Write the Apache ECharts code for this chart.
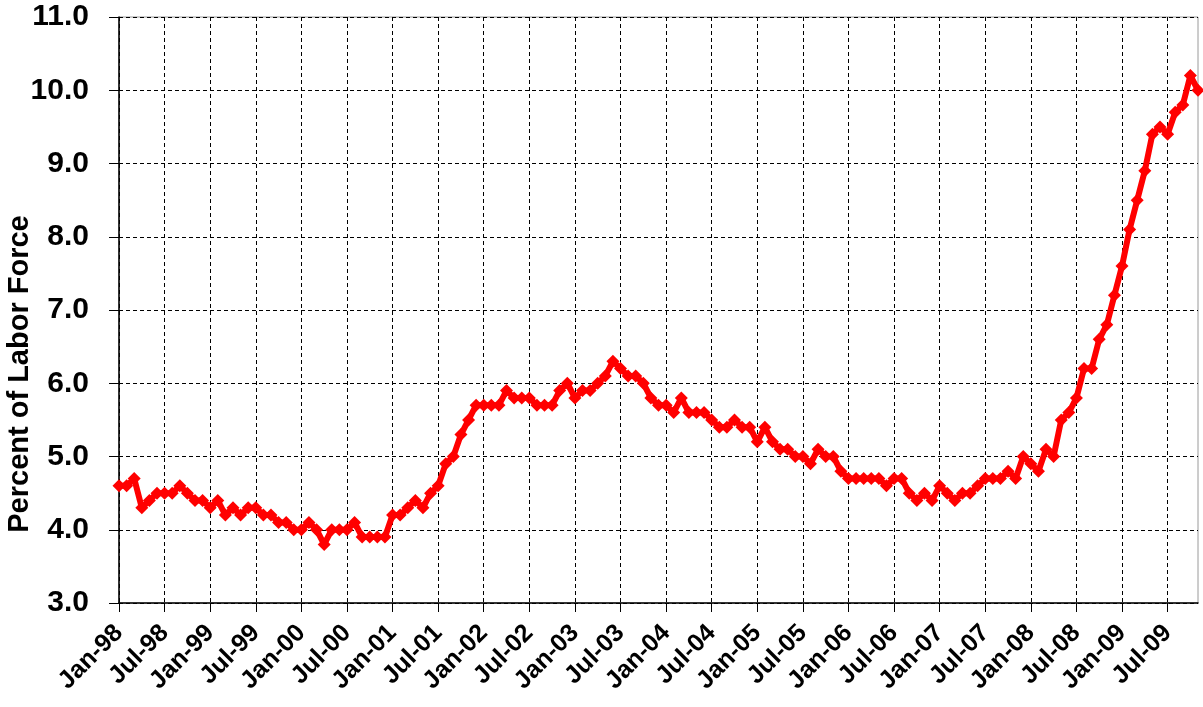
<!DOCTYPE html>
<html>
<head>
<meta charset="utf-8">
<script src="https://cdn.jsdelivr.net/npm/echarts@6/dist/echarts.min.js"></script>
<style>
html,body{margin:0;padding:0;background:#fff;}
#chart{width:1203px;height:707px;}
</style>
</head>
<body>
<div id="chart"></div>
<script>
// Tick label pieces
var MONTHS = ['Jan','Feb','Mar','Apr','May','Jun','Jul','Aug','Sep','Oct','Nov','Dec'];
var YEARS = ['98','99','00','01','02','03','04','05','06','07','08','09'];

// Unemployment rate, percent of labor force, by year; 2009 runs through Nov
var rate1998 = [4.6,4.6,4.7,4.3,4.4,4.5,4.5,4.5,4.6,4.5,4.4,4.4];
var rate1999 = [4.3,4.4,4.2,4.3,4.2,4.3,4.3,4.2,4.2,4.1,4.1,4.0];
var rate2000 = [4.0,4.1,4.0,3.8,4.0,4.0,4.0,4.1,3.9,3.9,3.9,3.9];
var rate2001 = [4.2,4.2,4.3,4.4,4.3,4.5,4.6,4.9,5.0,5.3,5.5,5.7];
var rate2002 = [5.7,5.7,5.7,5.9,5.8,5.8,5.8,5.7,5.7,5.7,5.9,6.0];
var rate2003 = [5.8,5.9,5.9,6.0,6.1,6.3,6.2,6.1,6.1,6.0,5.8,5.7];
var rate2004 = [5.7,5.6,5.8,5.6,5.6,5.6,5.5,5.4,5.4,5.5,5.4,5.4];
var rate2005 = [5.2,5.4,5.2,5.1,5.1,5.0,5.0,4.9,5.1,5.0,5.0,4.8];
var rate2006 = [4.7,4.7,4.7,4.7,4.7,4.6,4.7,4.7,4.5,4.4,4.5,4.4];
var rate2007 = [4.6,4.5,4.4,4.5,4.5,4.6,4.7,4.7,4.7,4.8,4.7,5.0];
var rate2008 = [4.9,4.8,5.1,5.0,5.5,5.6,5.8,6.2,6.2,6.6,6.8,7.2];
var rate2009 = [7.6,8.1,8.5,8.9,9.4,9.5,9.4,9.7,9.8,10.2,10.0];

var yearly = [rate1998,rate1999,rate2000,rate2001,rate2002,rate2003,rate2004,rate2005,rate2006,rate2007,rate2008,rate2009];
var categories = [];
var values = [];
for (var y = 0; y < YEARS.length; y++) {
  for (var m = 0; m < yearly[y].length; m++) {
    categories.push(MONTHS[m] + '-' + YEARS[y]);
    values.push(yearly[y][m]);
  }
}

var FONT = '"Liberation Sans", Arial, sans-serif';
var chart = echarts.init(document.getElementById('chart'), null, {renderer: 'canvas'});
chart.setOption({
  animation: false,
  backgroundColor: '#ffffff',
  grid: {left: 119, top: 17, right: 5, bottom: 104, show: true, borderColor: '#9a9a9a', borderWidth: 1, backgroundColor: 'transparent'},
  xAxis: {
    type: 'category',
    data: categories,
    boundaryGap: false,
    axisLine: {show: true, lineStyle: {color: '#000', width: 1.5}},
    axisTick: {show: true, interval: 5, length: 9, lineStyle: {color: '#000'}},
    axisLabel: {
      interval: 5, rotate: 45, margin: 26,
      fontFamily: FONT, fontWeight: 'bold', fontSize: 25, color: '#000'
    },
    splitLine: {show: true, interval: 5, lineStyle: {color: '#000', type: [4, 3], width: 1}}
  },
  yAxis: {
    type: 'value',
    min: 3, max: 11, interval: 1,
    axisLine: {show: true, lineStyle: {color: '#000', width: 1.5}},
    axisTick: {show: true, length: 10, lineStyle: {color: '#000'}},
    axisLabel: {
      margin: 30,
      fontFamily: FONT, fontWeight: 'bold', fontSize: 30, color: '#000',
      formatter: function (v) { return v.toFixed(1); }
    },
    splitLine: {show: true, lineStyle: {color: '#000', type: [4, 3], width: 1}}
  },
  graphic: [{
    type: 'text',
    x: 20, y: 374,
    rotation: Math.PI / 2,
    style: {
      text: 'Percent of Labor Force',
      font: 'bold 29px ' + FONT,
      fill: '#000',
      textAlign: 'center',
      textVerticalAlign: 'middle'
    }
  }],
  series: [{
    type: 'line',
    data: values,
    symbol: 'diamond',
    symbolSize: 13,
    showSymbol: true,
    showAllSymbol: true,
    lineStyle: {color: '#ff0000', width: 6},
    itemStyle: {color: '#ff0000'},
    z: 5
  }]
});
</script>
</body>
</html>
